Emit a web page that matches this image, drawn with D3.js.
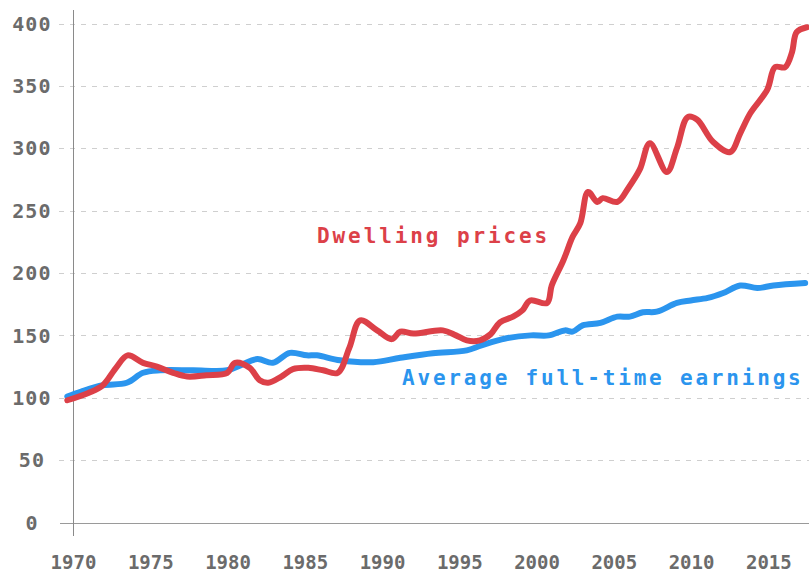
<!DOCTYPE html>
<html>
<head>
<meta charset="utf-8">
<script src="https://cdn.jsdelivr.net/npm/d3@7"></script>
<style>
  html, body { margin: 0; padding: 0; background: #fff; }
  svg { display: block; }
  .tick-label { font-family: "DejaVu Sans Mono", monospace; font-weight: bold; fill: #6b6b6b; }
  .series-label { font-family: "DejaVu Sans Mono", monospace; font-weight: bold; }
</style>
</head>
<body>
<svg class="chart" width="809" height="573"></svg>
<script>
// dwelling price index (1970 = 100)
var dwellingYears = [1969.6, 1971.0, 1971.9, 1972.75, 1973.5, 1974.5, 1975.4, 1976.45, 1977.35, 1978.6,
  1979.95, 1980.45, 1981.4, 1982.05, 1982.6, 1983.45, 1984.2, 1985.2, 1986.15, 1987.1,
  1987.85, 1988.55, 1989.65, 1990.6, 1991.15, 1992.0, 1993.9, 1994.75, 1995.45, 1996.3,
  1997.0, 1997.6, 1998.45, 1999.05, 1999.55, 2000.65, 2000.95, 2001.7, 2002.3, 2002.8,
  2003.3, 2003.9, 2004.25, 2005.2, 2005.9, 2006.65, 2007.3, 2008.4, 2009.05, 2009.75,
  2010.35, 2011.4, 2012.5, 2013.15, 2013.8, 2014.9, 2015.4, 2016.05, 2016.5, 2016.8, 2017.45];
var dwellingValues = [98, 104, 110, 124, 134, 128, 125, 120, 117, 118,
  120, 128, 124, 114, 112, 117, 123, 124, 122, 120,
  140, 162, 154, 147, 153, 151.5, 154, 150, 146, 146,
  151, 160.5, 165, 170, 178, 176, 190, 210, 229, 240,
  265, 257, 260, 257, 268, 283, 304, 281, 300, 325,
  323, 305, 297, 312, 328, 347, 365, 365, 377, 393, 397];

// average full-time earnings index (1970 = 100)
var earningsYears = [1969.6, 1970.5, 1971.9, 1973.45, 1974.5, 1975.6, 1977.75, 1979.95, 1980.8, 1981.9,
  1982.9, 1984.0, 1985.1, 1985.75, 1987.25, 1989.4, 1991.15, 1993.25, 1995.45, 1996.4,
  1997.95, 1999.6, 2000.75, 2001.8, 2002.3, 2002.95, 2004.1, 2005.2, 2006.0, 2006.85,
  2007.75, 2009.05, 2009.95, 2011.05, 2012.05, 2013.15, 2014.25, 2015.3, 2017.35];
var earningsValues = [101, 105, 110, 112, 120, 122, 122, 122, 126, 131,
  128, 136, 134, 134, 130, 128.5, 132, 135.7, 138, 142,
  147.5, 150, 150, 154, 153, 158, 160, 165, 165, 168.5,
  169, 176, 178, 180, 184, 190, 188, 190, 192];

var yTicks = [0, 50, 100, 150, 200, 250, 300, 350, 400];
var xTicks = [1970, 1975, 1980, 1985, 1990, 1995, 2000, 2005, 2010, 2015];

var svg = d3.select(".chart"),
    width = +svg.attr("width"),
    height = +svg.attr("height");

var x = d3.scaleLinear()
    .domain([1970, 2017.6])
    .range([73.5, 809]);

var y = d3.scaleLinear()
    .domain([0, 400])
    .range([522.5, 23.5]);

// dashed grid
svg.append("g")
  .selectAll("line")
  .data(yTicks.filter(function(d) { return d > 0; }))
  .enter().append("line")
    .attr("x1", 59)
    .attr("x2", width)
    .attr("y1", function(d) { return Math.round(y(d)) + 0.5; })
    .attr("y2", function(d) { return Math.round(y(d)) + 0.5; })
    .attr("stroke", "#cfcfcf")
    .attr("stroke-width", 1)
    .attr("stroke-dasharray", "5,6");

// axis lines
svg.append("line")
    .attr("x1", 60).attr("x2", width)
    .attr("y1", Math.round(y(0)) + 0.5).attr("y2", Math.round(y(0)) + 0.5)
    .attr("stroke", "#9a9a9a");

svg.append("line")
    .attr("x1", 73.5).attr("x2", 73.5)
    .attr("y1", 10).attr("y2", 536)
    .attr("stroke", "#8a8a8a");

// y labels
svg.append("g")
  .selectAll("text")
  .data(yTicks)
  .enter().append("text")
    .attr("class", "tick-label")
    .attr("x", 32)
    .attr("y", function(d) { return y(d); })
    .attr("dy", "0.36em")
    .attr("text-anchor", "middle")
    .attr("font-size", 20)
    .attr("letter-spacing", 1.2)
    .text(function(d) { return d; });

// x labels
svg.append("g")
  .selectAll("text")
  .data(xTicks)
  .enter().append("text")
    .attr("class", "tick-label")
    .attr("x", function(d) { return x(d); })
    .attr("y", 569)
    .attr("text-anchor", "middle")
    .attr("font-size", 19)
    .text(function(d) { return d; });

var line = d3.line()
    .x(function(d) { return x(d[0]); })
    .y(function(d) { return y(d[1]); })
    .curve(d3.curveCatmullRom.alpha(0.5));

svg.append("path")
    .datum(d3.zip(earningsYears, earningsValues))
    .attr("fill", "none")
    .attr("stroke", "#2b95ee")
    .attr("stroke-width", 6)
    .attr("stroke-linecap", "round")
    .attr("stroke-linejoin", "round")
    .attr("d", line);

svg.append("path")
    .datum(d3.zip(dwellingYears, dwellingValues))
    .attr("fill", "none")
    .attr("stroke", "#dc4048")
    .attr("stroke-width", 6)
    .attr("stroke-linecap", "round")
    .attr("stroke-linejoin", "round")
    .attr("d", line);

svg.append("text")
    .attr("class", "series-label")
    .attr("x", 317)
    .attr("y", 243)
    .attr("font-size", 21)
    .attr("letter-spacing", 2.9)
    .attr("fill", "#dc4048")
    .text("Dwelling prices");

svg.append("text")
    .attr("class", "series-label")
    .attr("x", 402)
    .attr("y", 385)
    .attr("font-size", 21)
    .attr("letter-spacing", 2.8)
    .attr("fill", "#2b95ee")
    .text("Average full-time earnings");
</script>
</body>
</html>
